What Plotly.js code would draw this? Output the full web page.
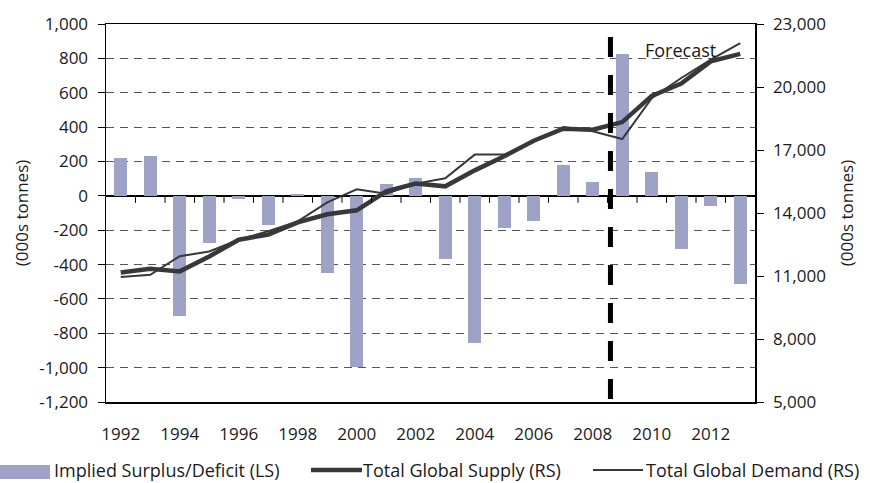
<!DOCTYPE html>
<html>
<head>
<meta charset="utf-8">
<script src="https://cdn.plot.ly/plotly-3.0.1.min.js"></script>
<style>html,body{margin:0;padding:0;background:#fff;}#chart{width:870px;height:483px;}</style>
</head>
<body>
<div id="chart"></div>
<script>
// ---- data ----
const years = [1992, 1993, 1994, 1995, 1996, 1997, 1998, 1999, 2000, 2001, 2002,
               2003, 2004, 2005, 2006, 2007, 2008, 2009, 2010, 2011, 2012, 2013];
const surplusDeficit = [220, 230, -697, -272, -16, -167, 12, -452, -994, 70, 105,
                        -365, -858, -190, -144, 181, 82, 827, 140, -307, -62, -511];
const totalSupply = [11170, 11350, 11220, 11930, 12730, 12970, 13550, 13940, 14130, 15030, 15400,
                     15270, 16030, 16700, 17440, 18010, 17970, 18330, 19580, 20160, 21220, 21580];
const totalDemand = [10950, 11060, 11940, 12170, 12730, 13130, 13600, 14510, 15130, 14920, 15400,
                     15650, 16780, 16780, 17410, 18090, 17890, 17520, 19470, 20430, 21300, 22090];

const xTickVals = [1992, 1994, 1996, 1998, 2000, 2002, 2004, 2006, 2008, 2010, 2012];
const xTickText = ['1992', '1994', '1996', '1998', '2000', '2002', '2004', '2006', '2008', '2010', '2012'];
const leftTickVals = [-1200, -1000, -800, -600, -400, -200, 0, 200, 400, 600, 800, 1000];
const leftTickText = ['-1,200', '-1,000', '-800', '-600', '-400', '-200', '0', '200', '400', '600', '800', '1,000'];
const rightTickVals = [5000, 8000, 11000, 14000, 17000, 20000, 23000];
const rightTickText = ['5,000', '8,000', '11,000', '14,000', '17,000', '20,000', '23,000'];

const seriesNames = ['Implied Surplus/Deficit (LS)', 'Total Global Supply (RS)', 'Total Global Demand (RS)'];
const forecastStart = 2008.6;
const forecastLabel = 'Forecast';
const axisTitle = '(000s tonnes)';

// ---- styling ----
const FONT = 'Open Sans, Noto Sans, sans-serif';
const TXT = '#1a1a1a';
const BAR = '#9da2c6';
const LINE = '#383838';

// plot area in pixels (for manual legend placement)
const W = 870, H = 483, L = 106, R = 115, T = 24, B = 81;
const pw = W - L - R, ph = H - T - B;
const px = v => (v - L) / pw;
const py = v => (H - B - v) / ph;

const traces = [
  {type: 'bar', x: years, y: surplusDeficit, name: seriesNames[0], marker: {color: BAR},
   width: 0.44, yaxis: 'y', showlegend: false, hoverinfo: 'x+y'},
  {type: 'scatter', mode: 'lines', x: years, y: totalSupply, name: seriesNames[1], yaxis: 'y2',
   line: {color: LINE, width: 4.5}, showlegend: false},
  {type: 'scatter', mode: 'lines', x: years, y: totalDemand, name: seriesNames[2], yaxis: 'y2',
   line: {color: LINE, width: 2}, showlegend: false}
];

const shapes = [];
// small tick marks on the zero line at category boundaries
for (let i = 0; i < years.length - 1; i++) {
  shapes.push({type: 'line', xref: 'x', yref: 'y', ysizemode: 'pixel', yanchor: 0,
    x0: years[i] + 0.5, x1: years[i] + 0.5, y0: 0, y1: -7,
    line: {color: '#000', width: 1}});
}
// forecast divider
shapes.push({type: 'line', xref: 'x', yref: 'paper', x0: forecastStart, x1: forecastStart,
  y0: py(37), y1: py(399), line: {color: '#000', width: 5, dash: '20px,18px'}});
// manual legend symbols
shapes.push({type: 'rect', xref: 'paper', yref: 'paper', x0: px(0), x1: px(50), y0: py(465), y1: py(479),
  line: {width: 0}, fillcolor: BAR});
shapes.push({type: 'line', xref: 'paper', yref: 'paper', x0: px(311), x1: px(362), y0: py(470), y1: py(470),
  line: {color: LINE, width: 4.5}});
shapes.push({type: 'line', xref: 'paper', yref: 'paper', x0: px(593), x1: px(643), y0: py(470), y1: py(470),
  line: {color: LINE, width: 2}});

const legendFont = {family: FONT, size: 18, color: TXT};
const annotations = [
  {xref: 'x', yref: 'paper', x: 2009.72, y: py(50), text: forecastLabel, showarrow: false,
   xanchor: 'left', yanchor: 'middle', font: {family: FONT, size: 18, color: TXT}},
  {xref: 'paper', yref: 'paper', x: px(53), y: py(470), text: seriesNames[0], showarrow: false,
   xanchor: 'left', yanchor: 'middle', borderpad: 0, font: legendFont},
  {xref: 'paper', yref: 'paper', x: px(362), y: py(470), text: seriesNames[1], showarrow: false,
   xanchor: 'left', yanchor: 'middle', borderpad: 0, font: legendFont},
  {xref: 'paper', yref: 'paper', x: px(645), y: py(470), text: seriesNames[2], showarrow: false,
   xanchor: 'left', yanchor: 'middle', borderpad: 0, font: legendFont}
];

const layout = {
  width: W, height: H,
  margin: {l: L, r: R, t: T, b: B, pad: 0},
  paper_bgcolor: '#fff', plot_bgcolor: '#fff',
  font: {family: FONT, size: 17, color: TXT},
  showlegend: false,
  bargap: 0,
  xaxis: {
    type: 'linear', range: [years[0] - 0.5, years[years.length - 1] + 0.5],
    tickvals: xTickVals, ticktext: xTickText, ticks: '', showgrid: false, zeroline: false,
    showline: true, linecolor: '#000', linewidth: 1.5, mirror: true,
    tickfont: {family: FONT, size: 17, color: TXT}, ticklabelstandoff: 16, fixedrange: true
  },
  yaxis: {
    range: [-1200, 1000], tickvals: leftTickVals, ticktext: leftTickText,
    ticks: 'outside', ticklen: 7, tickcolor: '#000', tickwidth: 1,
    showline: true, linecolor: '#000', linewidth: 1.5,
    showgrid: true, gridcolor: '#555', gridwidth: 1, griddash: '8px,6px',
    zeroline: true, zerolinecolor: '#000', zerolinewidth: 1.5,
    tickfont: {family: FONT, size: 17, color: TXT}, ticklabelstandoff: 6,
    title: {text: axisTitle, font: {family: FONT, size: 17, color: TXT}, standoff: 6},
    fixedrange: true
  },
  yaxis2: {
    overlaying: 'y', side: 'right', anchor: 'x',
    range: [5000, 23000], tickvals: rightTickVals, ticktext: rightTickText,
    ticks: 'outside', ticklen: 7, tickcolor: '#000', tickwidth: 1,
    showline: true, linecolor: '#000', linewidth: 1.5,
    showgrid: false, zeroline: false,
    tickfont: {family: FONT, size: 17, color: TXT}, ticklabelstandoff: 6,
    title: {text: axisTitle, font: {family: FONT, size: 17, color: TXT}, standoff: 16},
    fixedrange: true
  },
  shapes: shapes,
  annotations: annotations
};

Plotly.newPlot('chart', traces, layout, {displayModeBar: false, staticPlot: true});
</script>
</body>
</html>
